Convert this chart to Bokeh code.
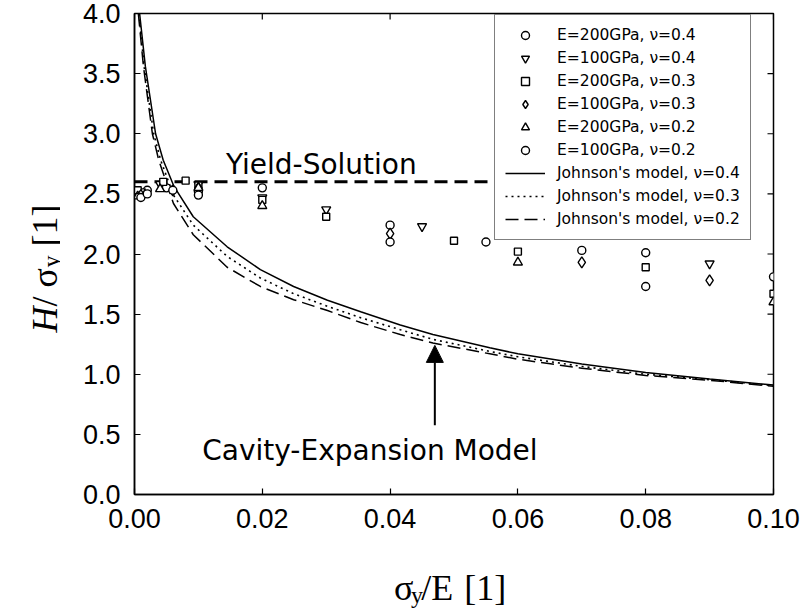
import math
from bokeh.plotting import figure
from bokeh.layouts import row, column
from bokeh.models import (Range1d, FixedTicker, NumeralTickFormatter,
                          Legend, LegendItem, Label, Arrow, NormalHead)
from bokeh.core.properties import value
from bokeh.embed import file_html
from bokeh.resources import INLINE

# ---------------- data ----------------
x_ticks = [0.0, 0.02, 0.04, 0.06, 0.08, 0.10]
y_ticks = [0.0, 0.5, 1.0, 1.5, 2.0, 2.5, 3.0, 3.5, 4.0]
x_min, x_max = 0.0, 0.10
y_min, y_max = 0.0, 4.0

# FE results  (sigma_y/E , H/sigma_y)
e200_n04_x = [0.0005, 0.002, 0.005, 0.010, 0.020, 0.040, 0.070, 0.080, 0.100]
e200_n04_y = [2.50, 2.53, 2.55, 2.52, 2.55, 2.24, 2.03, 2.01, 1.81]
e100_n04_x = [0.001, 0.004, 0.010, 0.020, 0.030, 0.045, 0.090]
e100_n04_y = [2.52, 2.58, 2.58, 2.47, 2.37, 2.23, 1.92]
e200_n03_x = [0.0005, 0.0045, 0.008, 0.010, 0.020, 0.030, 0.050, 0.060, 0.080, 0.100]
e200_n03_y = [2.53, 2.60, 2.61, 2.57, 2.45, 2.31, 2.11, 2.02, 1.89, 1.67]
e100_n03_x = [0.001, 0.006, 0.010, 0.040, 0.070, 0.090]
e100_n03_y = [2.49, 2.53, 2.55, 2.17, 1.93, 1.78]
e200_n02_x = [0.0005, 0.004, 0.010, 0.020, 0.060, 0.100]
e200_n02_y = [2.48, 2.54, 2.55, 2.40, 1.93, 1.60]
e100_n02_x = [0.001, 0.002, 0.006, 0.010, 0.040, 0.055, 0.080]
e100_n02_y = [2.47, 2.50, 2.53, 2.49, 2.10, 2.10, 1.73]

# Johnson's cavity model curves
j04_x = [0.0008, 0.0017, 0.0033, 0.0045, 0.0062, 0.0092, 0.0145, 0.0197, 0.0249, 0.0302,
         0.0354, 0.0416, 0.0467, 0.0556, 0.060, 0.070, 0.080, 0.090, 0.100]
j04_y = [4.00, 3.56, 3.00, 2.78, 2.56, 2.31, 2.06, 1.87, 1.73, 1.615,
         1.52, 1.41, 1.33, 1.22, 1.17, 1.085, 1.015, 0.96, 0.91]
j03_x = [0.0007, 0.0015, 0.0030, 0.0041, 0.0061, 0.0092, 0.0145, 0.0197, 0.0249, 0.0302,
         0.0354, 0.0416, 0.0467, 0.0556, 0.060, 0.070, 0.080, 0.090, 0.100]
j03_y = [4.00, 3.56, 3.00, 2.78, 2.49, 2.24, 1.98, 1.80, 1.67, 1.565,
         1.47, 1.37, 1.29, 1.19, 1.145, 1.065, 1.00, 0.955, 0.905]
j02_x = [0.0006, 0.0014, 0.0028, 0.0038, 0.0061, 0.0092, 0.0145, 0.0197, 0.0249, 0.0302,
         0.0354, 0.0416, 0.0467, 0.0556, 0.060, 0.070, 0.080, 0.090, 0.100]
j02_y = [4.00, 3.56, 3.00, 2.78, 2.42, 2.16, 1.89, 1.73, 1.62, 1.53,
         1.43, 1.33, 1.26, 1.17, 1.125, 1.05, 0.99, 0.95, 0.90]

# yield solution
yield_x = [0.0, 0.0555]
yield_y = [2.6, 2.6]

legend_labels = ["E=200GPa, ν=0.4", "E=100GPa, ν=0.4", "E=200GPa, ν=0.3",
                 "E=100GPa, ν=0.3", "E=200GPa, ν=0.2", "E=100GPa, ν=0.2",
                 "Johnson's model, ν=0.4", "Johnson's model, ν=0.3",
                 "Johnson's model, ν=0.2"]

# annotation anchors (data units)
yield_text_pos = (0.0143, 2.745)
cavity_text_pos = (0.0106, 0.37)
arrow_start = (0.047, 0.575)
arrow_end = (0.047, 1.24)

SANS = "Liberation Sans"
SERIF = "Liberation Serif"

LEFT_W = 60
BOTTOM_H = 54
W, H = 804, 614

p = figure(width=W - LEFT_W, height=H - BOTTOM_H, output_backend="svg", toolbar_location=None,
           x_range=Range1d(x_min, x_max), y_range=Range1d(y_min, y_max),
           min_border_left=134 - LEFT_W, min_border_right=31, min_border_top=13,
           min_border_bottom=66, background_fill_color="white",
           border_fill_color="white")
p.xgrid.visible = False
p.ygrid.visible = False
p.outline_line_color = "black"
p.outline_line_width = 1.5

p.xaxis.ticker = FixedTicker(ticks=x_ticks)
p.xaxis.formatter = NumeralTickFormatter(format="0.00")
p.yaxis.ticker = FixedTicker(ticks=y_ticks)
p.yaxis.formatter = NumeralTickFormatter(format="0.0")
for ax in p.xaxis + p.yaxis:
    ax.axis_line_color = "black"
    ax.axis_line_width = 1.5
    ax.major_tick_in = 6
    ax.major_tick_out = 0
    ax.minor_tick_in = 0
    ax.minor_tick_out = 0
    ax.major_tick_line_width = 1.2
    ax.major_label_standoff = 14
    ax.major_label_text_font = SANS
    ax.major_label_text_color = "black"
    ax.major_label_text_font_size = "27px"

# mirrored inward ticks on top and right borders (clipped half of a dash marker)
p.scatter(x_ticks, [y_max] * len(x_ticks), marker="dash", size=12, angle=math.pi / 2,
          line_color="black", line_width=1.2)
p.scatter([x_max] * len(y_ticks), y_ticks, marker="dash", size=12,
          line_color="black", line_width=1.2)

# curves
r_j04 = p.line(j04_x, j04_y, line_color="black", line_width=1.5)
r_j03 = p.line(j03_x, j03_y, line_color="black", line_width=1.6, line_dash="2 4")
r_j02 = p.line(j02_x, j02_y, line_color="black", line_width=1.5, line_dash="13 6")

# yield solution
p.line(yield_x, yield_y, line_color="black", line_width=3, line_dash="13 7")

mk = dict(fill_color="white", line_color="black", line_width=1.4)
r1 = p.scatter(e200_n04_x, e200_n04_y, marker="circle", size=8, **mk)
r2 = p.scatter(e100_n04_x, e100_n04_y, marker="inverted_triangle", size=9, **mk)
r3 = p.scatter(e200_n03_x, e200_n03_y, marker="square", size=7, **mk)
r4 = p.scatter(e100_n03_x, e100_n03_y, marker="diamond", size=11, **mk)
r5 = p.scatter(e200_n02_x, e200_n02_y, marker="triangle", size=9, **mk)
r6 = p.scatter(e100_n02_x, e100_n02_y, marker="circle", size=8, **mk)

renderers = [r1, r2, r3, r4, r5, r6, r_j04, r_j03, r_j02]
legend = Legend(items=[LegendItem(label=lbl, renderers=[r])
                       for lbl, r in zip(legend_labels, renderers)],
                location=(360, 254))
legend.border_line_color = "black"
legend.border_line_width = 1.5
legend.background_fill_color = "white"
legend.background_fill_alpha = 1.0
legend.label_text_font = "DejaVu Sans"
legend.label_text_font_size = "15.5px"
legend.label_text_color = "black"
legend.glyph_width = 40
legend.glyph_height = 20
legend.label_height = 20
legend.spacing = 3
legend.padding = 10
legend.margin = 0
legend.label_standoff = 12
p.add_layout(legend)

# text annotations
p.add_layout(Label(x=yield_text_pos[0], y=yield_text_pos[1], text="Yield-Solution",
                   text_font="DejaVu Sans", text_font_size="28px", text_color="black",
                   text_baseline="alphabetic"))
p.add_layout(Label(x=cavity_text_pos[0], y=cavity_text_pos[1], text="Cavity-Expansion Model",
                   text_font="DejaVu Sans", text_font_size="28px", text_color="black",
                   text_baseline="alphabetic"))
p.add_layout(Arrow(x_start=arrow_start[0], y_start=arrow_start[1],
                   x_end=arrow_end[0], y_end=arrow_end[1], line_width=2, line_color="black",
                   end=NormalHead(size=17, fill_color="black", line_color="black")))


# ---------- axis titles drawn in small side figures (pixel coordinates) ----------
def blank_fig(w, h):
    f = figure(width=w, height=h, output_backend="svg", toolbar_location=None,
               x_range=Range1d(0, w), y_range=Range1d(0, h),
               min_border=0, min_border_left=0, min_border_right=0,
               min_border_top=0, min_border_bottom=0,
               x_axis_location=None, y_axis_location=None,
               background_fill_color="white", border_fill_color="white")
    f.outline_line_color = None
    f.xgrid.visible = False
    f.ygrid.visible = False
    return f


def piece(f, x, y, text, size, style="normal", angle=0.0):
    f.text(x=[x], y=[y], text=[text], angle=angle,
           text_font=value(SERIF), text_font_size=value(size),
           text_font_style=value(style), text_color="black",
           text_align="left", text_baseline="alphabetic")


# y title:  H/ sigma_y [1]  (rotated, reads bottom to top)
left = blank_fig(LEFT_W, H)
A = math.pi / 2
piece(left, 44, 282, "H", "36px", style="italic", angle=A)
piece(left, 44, 308, "/ σ", "36px", angle=A)
piece(left, 50, 347, "y", "24px", angle=A)
piece(left, 44, 368, "[1]", "36px", angle=A)

# x title:  sigma_y/E [1]
bottom = blank_fig(W - LEFT_W, BOTTOM_H)
piece(bottom, 302, 27, "σ", "36px")
piece(bottom, 322, 20, "y", "24px")
piece(bottom, 334, 27, "/E", "36px")
piece(bottom, 384, 27, "[1]", "36px")

layout = row(left, column(p, bottom, spacing=0), spacing=0)

open("out.html", "w").write(file_html(layout, INLINE))
